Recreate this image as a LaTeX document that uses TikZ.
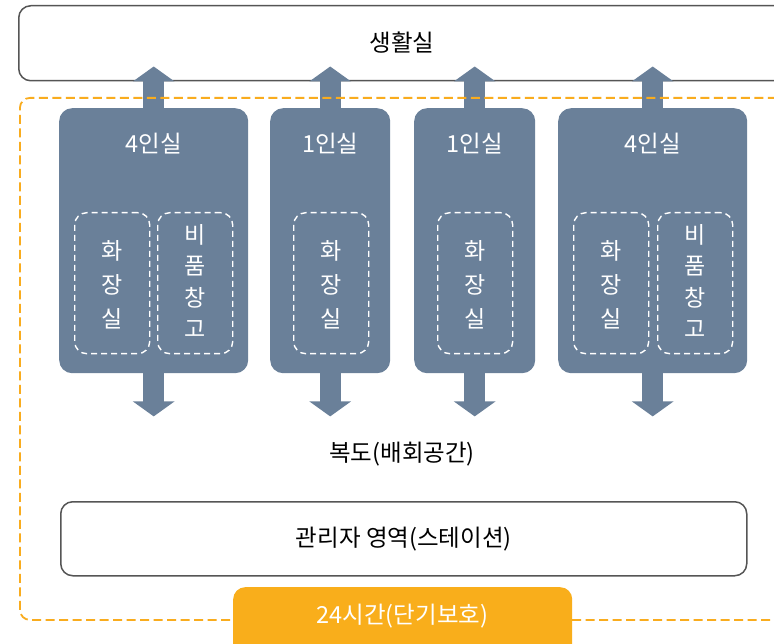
\documentclass[tikz,border=0pt]{standalone}
\usepackage{fontspec}
\newfontfamily\kr{Noto Sans CJK KR}
\usetikzlibrary{arrows.meta,calc}
\definecolor{roomc}{HTML}{6A8099}
\definecolor{orangec}{HTML}{F9AE1B}
\definecolor{dashc}{HTML}{F9AC1E}
\definecolor{bordc}{HTML}{555555}
\begin{document}
\begin{tikzpicture}[x=1pt,y=-1pt,
  txt/.style={font=\kr\fontsize{23.5}{27}\selectfont, inner sep=0pt},
  whitetxt/.style={txt, text=white},
  outline/.style={draw=bordc, line width=1.5pt, rounded corners=12pt, fill=white, inner sep=0pt, anchor=north west},
  room/.style={fill=roomc, rounded corners=13pt, minimum height=265pt, inner sep=0pt, anchor=north west},
  inbox/.style={draw=white, line width=1.4pt, dash pattern=on 6pt off 4pt, rounded corners=12pt, minimum width=75pt, minimum height=141pt, inner sep=0pt, anchor=north west},
  zone/.style={draw=dashc, line width=1.8pt, dash pattern=on 9pt off 4.5pt, rounded corners=10pt, inner sep=0pt, anchor=north west},
  bigarr/.style={draw=roomc, line width=21pt, -{Triangle[width=41pt,length=15pt]}},
  vtxt3/.style={whitetxt, align=center, font=\kr\fontsize{23}{34}\selectfont},
  vtxt4/.style={whitetxt, align=center, font=\kr\fontsize{23}{31.5}\selectfont}
]
\useasboundingbox (0,0) rectangle (774,644);
\clip (0,0) rectangle (774,644);
\fill[white] (0,0) rectangle (774,644);

% top box
\node[outline, minimum width=768pt, minimum height=75pt] (top) at (18,5) {};
\node[txt] (toptxt) at (402,43) {생활실};

% rooms
\node[room, minimum width=189pt] (r1) at (59,108) {};
\node[room, minimum width=120pt] (r2) at (270,108) {};
\node[room, minimum width=121pt] (r3) at (414,108) {};
\node[room, minimum width=189pt] (r4) at (558,108) {};

\node[whitetxt] (l1) at ($(r1.north)+(0,36)$) {4인실};
\node[whitetxt] (l2) at ($(r2.north)+(0,36)$) {1인실};
\node[whitetxt] (l3) at ($(r3.north)+(0,36)$) {1인실};
\node[whitetxt] (l4) at ($(r4.north)+(0,36)$) {4인실};

% inner dashed boxes
\node[inbox] (b1a) at (74,212) {};
\node[inbox] (b1b) at (157,212) {};
\node[inbox] (b2) at (293,212) {};
\node[inbox] (b3) at (437,212) {};
\node[inbox] (b4a) at (573,212) {};
\node[inbox] (b4b) at (657,212) {};

\node[vtxt3] (t1a) at ($(b1a.center)+(0,2)$) {화\\장\\실};
\node[vtxt4] (t1b) at ($(b1b.center)+(0,-2)$) {비\\품\\창\\고};
\node[vtxt3] (t2) at ($(b2.center)+(0,2)$) {화\\장\\실};
\node[vtxt3] (t3) at ($(b3.center)+(0,2)$) {화\\장\\실};
\node[vtxt3] (t4a) at ($(b4a.center)+(0,2)$) {화\\장\\실};
\node[vtxt4] (t4b) at ($(b4b.center)+(0,-2)$) {비\\품\\창\\고};

% arrows
\foreach \r in {r1,r2,r3,r4}{
  \draw[bigarr] (\r.north) -- ($(\r.north |- top.south)+(0,-15)$);
  \draw[bigarr] (\r.south) -- ($(\r.south)+(0,43)$);
}

% zone
\node[zone, minimum width=767pt, minimum height=522pt] (zone) at (19,97) {};

% corridor
\node[txt] (corr) at (402,454) {복도(배회공간)};

% manager box
\node[outline, minimum width=686pt, minimum height=74pt] (mgr) at (60,501) {};
\node[txt] (mgrtxt) at ($(mgr.center)+(0,0)$) {관리자 영역(스테이션)};

% orange box
\node[fill=orangec, rounded corners=12pt, minimum width=339pt, minimum height=80pt, inner sep=0pt, anchor=north west] (care) at (233,587) {};
\node[whitetxt] (caretxt) at (402.5,616) {24시간(단기보호)};
\end{tikzpicture}
\end{document}
